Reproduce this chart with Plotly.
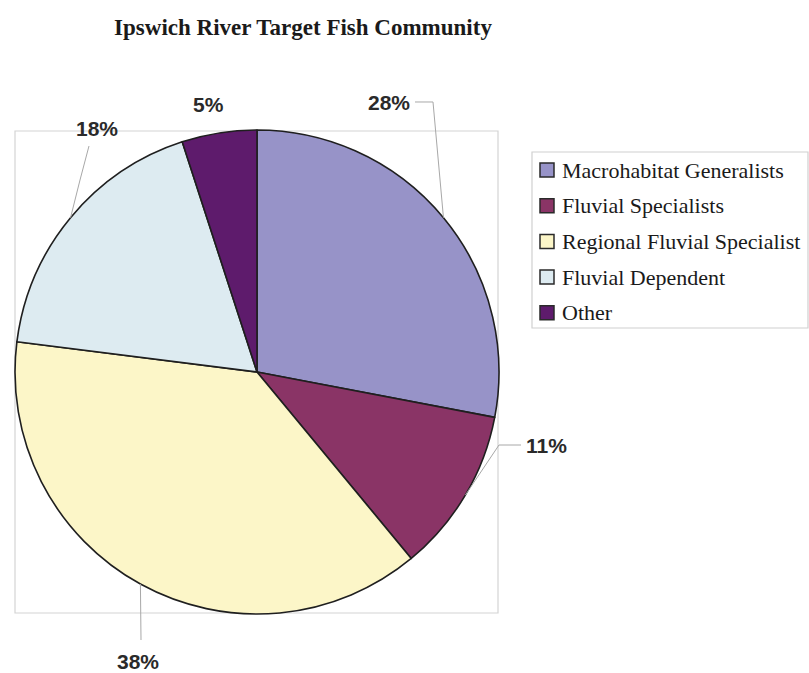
import math
import plotly.graph_objects as go

# Fish community composition (share of target community, %)
groups = [
    "Macrohabitat Generalists",
    "Fluvial Specialists",
    "Regional Fluvial Specialist",
    "Fluvial Dependent",
    "Other",
]
shares = [28, 11, 38, 18, 5]
slice_colors = ["#9793C8", "#8A3466", "#FCF6C8", "#DDEBF1", "#5E1B6C"]

W, H = 809, 673


def px(x):
    return x / W


def py(y):
    return 1 - y / H


# pie geometry in pixels
cx, cy, r = 257, 372, 242

fig = go.Figure(
    go.Pie(
        labels=groups,
        values=shares,
        sort=False,
        direction="clockwise",
        rotation=0,
        textinfo="none",
        hoverinfo="label+percent",
        showlegend=False,
        marker=dict(colors=slice_colors, line=dict(color="#1f1f1f", width=1.6)),
        domain=dict(x=[px(cx - r), px(cx + r)], y=[py(cy + r), py(cy - r)]),
    )
)

# mid-angle of each slice (degrees clockwise from 12 o'clock)
total = sum(shares)
mid_angles = []
acc = 0
for v in shares:
    mid_angles.append(360 * (acc + v / 2) / total)
    acc += v


def arc_point(angle_deg):
    a = math.radians(angle_deg)
    return cx + r * math.sin(a), cy - r * math.cos(a)


# label centre and leader-line bend per slice
label_pos = [(389, 102), (546, 445), (138, 661), (97, 128), (208, 104)]
leader_bends = [[(433, 102), (415, 102)], [(499, 445), (521, 445)],
                [(141, 640)], [(80, 180), (89, 146)], None]

shapes = [
    # plot-area frame
    dict(type="rect", xref="paper", yref="paper",
         x0=px(15), x1=px(498), y0=py(613), y1=py(131),
         line=dict(color="#d4d4d4", width=1.2), layer="below"),
]

annotations = []
for v, ang, (lx, ly), bends in zip(shares, mid_angles, label_pos, leader_bends):
    pct = round(100 * v / total)
    annotations.append(dict(
        x=px(lx), y=py(ly), xref="paper", yref="paper",
        xanchor="center", yanchor="middle",
        text=f"<b>{pct}%</b>", showarrow=False,
        font=dict(family="Liberation Sans, Arial, sans-serif", size=21, color="#2a2a2a"),
    ))
    if bends:
        sx, sy = arc_point(ang)
        pts = [(sx, sy)] + bends
        path = "M " + " L ".join(f"{px(x):.5f},{py(y):.5f}" for x, y in pts)
        shapes.append(dict(type="path", xref="paper", yref="paper", path=path,
                           line=dict(color="#a8a8a8", width=1)))

# legend panel: frame, colour keys and names
leg_left, leg_top, leg_right, leg_bottom = 532, 152, 808, 328
row_first, row_step, key_size = 170, 35.7, 14
shapes.append(dict(type="rect", xref="paper", yref="paper",
                   x0=px(leg_left), x1=px(leg_right), y0=py(leg_bottom), y1=py(leg_top),
                   line=dict(color="#d0d0d0", width=1.2), fillcolor="white"))
for i, (name, col) in enumerate(zip(groups, slice_colors)):
    yc = row_first + i * row_step
    shapes.append(dict(type="rect", xref="paper", yref="paper",
                       x0=px(540), x1=px(540 + key_size),
                       y0=py(yc + key_size / 2), y1=py(yc - key_size / 2),
                       fillcolor=col, line=dict(color="#2a2a2a", width=1.5)))
    annotations.append(dict(
        x=px(560), y=py(yc), xref="paper", yref="paper",
        xanchor="left", yanchor="middle", text=name, showarrow=False,
        font=dict(family="Liberation Serif, Times New Roman, serif", size=22, color="#1a1a1a"),
    ))

fig.update_layout(
    width=W,
    height=H,
    margin=dict(l=0, r=0, t=0, b=0, autoexpand=False),
    paper_bgcolor="white",
    plot_bgcolor="white",
    title=dict(
        text="<b>Ipswich River Target Fish Community</b>",
        x=px(303), xanchor="center", y=py(27), yanchor="middle",
        font=dict(family="Liberation Serif, Times New Roman, serif", size=23, color="#1a1a1a"),
    ),
    shapes=shapes,
    annotations=annotations,
)

fig.write_html("out.html")
